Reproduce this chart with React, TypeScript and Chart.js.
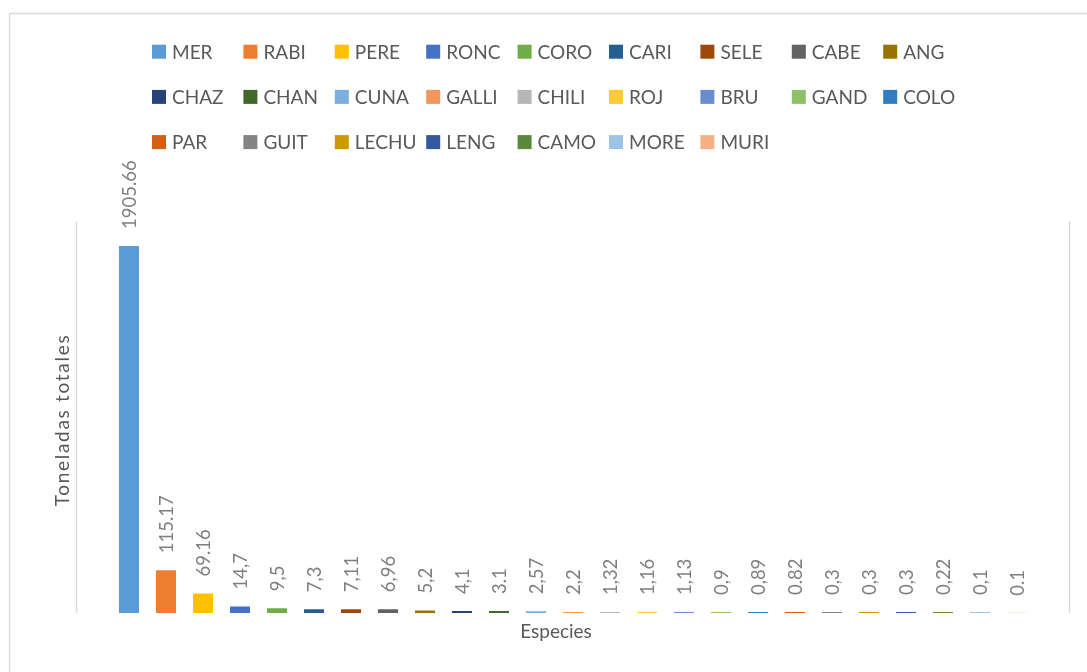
import React, { useEffect, useRef } from "react";
import { Chart, registerables } from "chart.js";

Chart.register(...registerables);

const species = [
  "MER", "RABI", "PERE", "RONC", "CORO", "CARI", "SELE", "CABE", "ANG",
  "CHAZ", "CHAN", "CUNA", "GALLI", "CHILI", "ROJ", "BRU", "GAND", "COLO",
  "PAR", "GUIT", "LECHU", "LENG", "CAMO", "MORE", "MURI",
];

// Bar heights (tonnes)
const barValues = [
  1905.66, 222, 101, 34, 25, 20, 20, 20, 13,
  10, 10, 9, 5, 5, 5, 5, 5, 5,
  5, 5, 5, 5, 5, 5, 1,
];

// Data label texts as printed in the picture
const dataLabels = [
  "1905.66", "115.17", "69.16", "14,7", "9,5", "7,3", "7,11", "6,96", "5,2",
  "4,1", "3.1", "2,57", "2,2", "1,32", "1,16", "1,13", "0,9", "0,89",
  "0.82", "0,3", "0,3", "0,3", "0,22", "0,1", "0.1",
];

const colors = [
  "#5B9BD5", "#ED7D31", "#FFC000", "#4472C4", "#70AD47", "#255E91", "#9E480E", "#636363", "#997300",
  "#264478", "#43682B", "#7CAFDD", "#F1975A", "#B7B7B7", "#FFCD33", "#698ED0", "#8CC168", "#327DC2",
  "#D26012", "#848484", "#CC9A00", "#335AA1", "#5A8A39", "#9DC3E6", "#F4B183",
];

const xTitle = "Especies";
const yTitle = "Toneladas totales";
const FONT = "Lato, 'Open Sans', sans-serif";

const decorPlugin = {
  id: "decor",
  beforeDraw(chart: any) {
    const ctx = chart.ctx;
    ctx.save();
    ctx.fillStyle = "#ffffff";
    ctx.fillRect(0, 0, chart.width, chart.height);
    ctx.strokeStyle = "#d9d9d9";
    ctx.lineWidth = 1.3;
    // outer chart border (extends beyond the view)
    ctx.beginPath();
    ctx.moveTo(9.5, chart.height + 2);
    ctx.lineTo(9.5, 13.5);
    ctx.lineTo(chart.width + 2, 13.5);
    ctx.stroke();
    // plot side lines
    ctx.beginPath();
    ctx.moveTo(76.5, 221);
    ctx.lineTo(76.5, 613);
    ctx.moveTo(1069.5, 221);
    ctx.lineTo(1069.5, 613);
    ctx.stroke();
    ctx.restore();
  },
  afterDraw(chart: any) {
    const ctx = chart.ctx;
    ctx.save();
    // legend grid
    const names = chart.data.labels as string[];
    const bg = chart.data.datasets[0].backgroundColor as string[];
    ctx.font = `19px ${FONT}`;
    ctx.textBaseline = "middle";
    ctx.textAlign = "left";
    names.forEach((n, i) => {
      const row = Math.floor(i / 9);
      const col = i % 9;
      const x = 152 + col * 91.4;
      const y = 51.7 + row * 45.2;
      ctx.fillStyle = bg[i];
      ctx.fillRect(x, y - 7, 14, 14);
      ctx.fillStyle = "#595959";
      ctx.fillText(n, x + 20, y + 1);
    });
    // data labels
    const meta = chart.getDatasetMeta(0);
    ctx.fillStyle = "#7f7f7f";
    ctx.font = `18.5px ${FONT}`;
    meta.data.forEach((el: any, i: number) => {
      ctx.save();
      ctx.translate(el.x, el.y - 17);
      ctx.rotate(-Math.PI / 2);
      ctx.textAlign = "left";
      ctx.textBaseline = "middle";
      ctx.fillText(dataLabels[i], 0, 1);
      ctx.restore();
    });
    // axis titles
    ctx.fillStyle = "#595959";
    ctx.font = `19px ${FONT}`;
    ctx.textAlign = "center";
    ctx.textBaseline = "middle";
    ctx.fillText(xTitle, 556, 632);
    ctx.save();
    ctx.translate(63, 420);
    ctx.rotate(-Math.PI / 2);
    (ctx as any).letterSpacing = "1.7px";
    ctx.fillText(yTitle, 0, 0);
    ctx.restore();
    ctx.restore();
  },
};

export default function App() {
  const ref = useRef<HTMLCanvasElement>(null);
  useEffect(() => {
    if (!ref.current) return;
    const chart = new Chart(ref.current, {
      type: "bar",
      data: {
        labels: species,
        datasets: [
          {
            label: "Toneladas",
            data: barValues,
            backgroundColor: colors,
            borderWidth: 0,
            barPercentage: 0.54,
            categoryPercentage: 1,
          },
        ],
      },
      options: {
        responsive: false,
        animation: false,
        devicePixelRatio: 1,
        layout: { padding: { left: 110.5, right: 51.5, top: 227.8, bottom: 59 } },
        plugins: { legend: { display: false }, tooltip: { enabled: false }, title: { display: false } },
        scales: {
          x: { display: false, grid: { display: false } },
          y: { display: false, min: 0, max: 2000, grid: { display: false } },
        },
      },
      plugins: [decorPlugin],
    });
    return () => chart.destroy();
  }, []);
  return (
    <div style={{ position: "fixed", left: 0, top: 0, width: 1087, height: 672, background: "#fff" }}>
      <canvas ref={ref} width={1087} height={672} style={{ display: "block" }} />
    </div>
  );
}
